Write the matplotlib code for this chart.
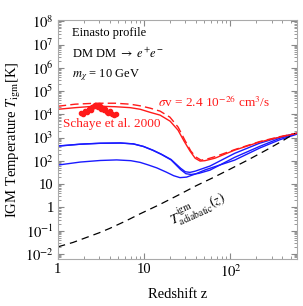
import numpy as np
import matplotlib
matplotlib.use('Agg')
import matplotlib.pyplot as plt
from matplotlib.ticker import FixedLocator, LogLocator, NullFormatter

plt.rcParams['font.family'] = ['Liberation Serif', 'DejaVu Serif']
plt.rcParams['mathtext.fontset'] = 'stix'

# curves (redshift z, temperature T in K)
z_blue1 = [1.0, 1.82, 3.1, 5.3, 7.5, 9.8, 12.6, 15.8, 20.5, 26.5, 30.0, 34.0, 39.0, 58.0, 112.0, 218.0, 373.0, 590.0]
T_blue1 = [437, 525, 575, 590, 540, 420, 290, 195, 115, 48, 34, 32, 36, 60, 211, 575, 1050, 1550]

z_blue2 = [1.0, 1.82, 3.1, 5.3, 7.5, 9.8, 12.6, 15.8, 20.5, 26.5, 30.5, 35.0, 43.0, 58.0, 112.0, 218.0, 373.0, 590.0]
T_blue2 = [430, 520, 570, 585, 535, 415, 285, 190, 110, 42, 28, 26, 29, 40, 142, 420, 940, 1500]

z_blue3 = [1.0, 1.82, 3.1, 4.8, 7.0, 9.0, 11.0, 14.0, 18.0, 22.0, 26.0, 31.0, 39.0, 51.0, 112.0, 218.0, 373.0, 590.0]
T_blue3 = [66, 89, 104, 110, 102, 86, 68, 50, 33, 23, 19, 20, 27, 41, 108, 355, 810, 1410]

z_red = [1.0, 1.6, 2.7, 4.6, 6.9, 9.0, 11.7, 15.3, 20.0, 24.7, 29.0, 34.0, 39.0, 44.5, 50.6, 66.0, 112.0, 218.0, 373.0, 590.0]
T_red = [16600, 19500, 22600, 21400, 19500, 16600, 12300, 9300, 5100, 2100, 710, 265, 130, 98, 102, 130, 290, 650, 1050, 1550]

z_red_dash = [1.0, 1.59, 2.71, 4.62, 6.88, 8.98, 11.7, 15.3, 19.9, 24.8, 29.6, 34.8, 40.0, 45.7, 53.5, 66.0, 112.0, 218.0, 373.0, 590.0]
T_red_dash = [22400, 27500, 30200, 30200, 27500, 23400, 18600, 13800, 7600, 2800, 780, 263, 145, 107, 120, 151, 305, 675, 1100, 1550]

z_adiab = [1.0, 1.5, 2.0, 3.0, 4.0, 6.0, 9.0, 15.0, 25.0, 40.0, 63.0, 100.0, 160.0, 264.0, 400.0, 560.0]
T_adiab = [0.02, 0.031, 0.046, 0.08, 0.125, 0.25, 0.53, 1.3, 3.4, 8.5, 19.0, 45.0, 110.0, 300.0, 720.0, 1550.0]

# Schaye et al. 2000 measurements
z_schaye = [1.85, 1.95, 2.05, 2.15, 2.3, 2.4, 2.5, 2.6, 2.7, 2.8, 2.9, 3.0, 3.1, 3.2, 3.3, 3.4, 3.55, 3.7, 3.85, 4.0, 4.2, 4.45, 4.7]
logT_schaye = [4.07, 4.02, 4.14, 4.12, 4.22, 4.2, 4.32, 4.34, 4.42, 4.37, 4.3, 4.4, 4.34, 4.22, 4.27, 4.17, 4.22, 4.12, 4.07, 4.14, 4.02, 3.97, 4.02]
logT_schaye_err = [0.08, 0.07, 0.09, 0.07, 0.08, 0.06, 0.08, 0.07, 0.06, 0.07, 0.08, 0.07, 0.06, 0.08, 0.07, 0.09, 0.07, 0.08, 0.07, 0.06, 0.08, 0.07, 0.06]

x_ticks = [1, 10, 100]
x_ticklabels = ['1', '10', r'$10^2$']
y_ticks = [1e-2, 1e-1, 1, 10, 1e2, 1e3, 1e4, 1e5, 1e6, 1e7, 1e8]
y_ticklabels = [r'$10^{-2}$', r'$10^{-1}$', '1', '10', r'$10^2$', r'$10^3$',
                r'$10^4$', r'$10^5$', r'$10^6$', r'$10^7$', r'$10^8$']

fig = plt.figure(figsize=(3.03, 3.06), dpi=100)
ax = fig.add_axes([0.191, 0.1536, 0.789, 0.781])
ax.set_xscale('log')
ax.set_yscale('log')

ax.plot(z_blue1, T_blue1, color='#1a1aff', lw=1.0)
ax.plot(z_blue2, T_blue2, color='#1a1aff', lw=1.0)
ax.plot(z_blue3, T_blue3, color='#1a1aff', lw=1.0)
ax.plot(z_red, T_red, color='#ff1a1a', lw=1.0)
ax.plot(z_red_dash, T_red_dash, color='#ff1a1a', lw=1.0, ls=(0, (6, 3)))
ax.plot(z_adiab, T_adiab, color='black', lw=0.9, ls=(0, (6, 4)))

T_s = 10 ** np.array(logT_schaye)
lo = T_s - 10 ** (np.array(logT_schaye) - np.array(logT_schaye_err))
hi = 10 ** (np.array(logT_schaye) + np.array(logT_schaye_err)) - T_s
ax.errorbar(z_schaye, T_s, yerr=[lo, hi], xerr=0.05, fmt='o', ms=3,
            color='#ff1a1a', elinewidth=1.5, capsize=0)

ax.set_xlim(1, 590)
ax.set_ylim(0.006, 1.15e8)

ax.xaxis.set_major_locator(FixedLocator(x_ticks))
ax.set_xticklabels(x_ticklabels)
ax.xaxis.set_minor_locator(LogLocator(base=10, subs=np.arange(2, 10)))
ax.xaxis.set_minor_formatter(NullFormatter())
ax.yaxis.set_major_locator(FixedLocator(y_ticks))
ax.set_yticklabels(y_ticklabels)
ax.yaxis.set_minor_locator(LogLocator(base=10, subs=np.arange(2, 10), numticks=20))
ax.yaxis.set_minor_formatter(NullFormatter())

ax.tick_params(which='both', direction='in', top=True, right=True,
               color='#888888', labelsize=10.5, pad=3)
ax.tick_params(which='major', length=4)
ax.tick_params(which='minor', length=2)
for s in ax.spines.values():
    s.set_color('#aaaaaa')

ax.set_xlabel('Redshift z', fontsize=10.5, labelpad=6)
ax.set_ylabel(r'IGM Temperature $T_{\rm igm}$[K]', fontsize=10.5, labelpad=1)

ax.text(0.06, 0.945, 'Einasto profile', transform=ax.transAxes, fontsize=9, va='center')
ax.text(0.06, 0.86, r'DM DM $\rightarrow$ $e^{+}e^{-}$', transform=ax.transAxes, fontsize=9, va='center')
ax.text(0.06, 0.77, r'$m_{\chi}$ = 10 GeV', transform=ax.transAxes, fontsize=9, va='center')
ax.text(0.42, 0.655, r'$\sigma$v = 2.4 10$^{-26}$ cm$^3$/s', transform=ax.transAxes,
        fontsize=9.5, color='#ff1a1a', va='center')
ax.text(0.02, 0.565, 'Schaye et al. 2000', transform=ax.transAxes,
        fontsize=9.5, color='#ff1a1a', va='center')
ax.text(0.45, 0.21, r'$T^{\rm igm}_{\rm adiabatic}(z)$', transform=ax.transAxes,
        fontsize=10, rotation=24, va='center')

fig.savefig('out.png', dpi=100)
